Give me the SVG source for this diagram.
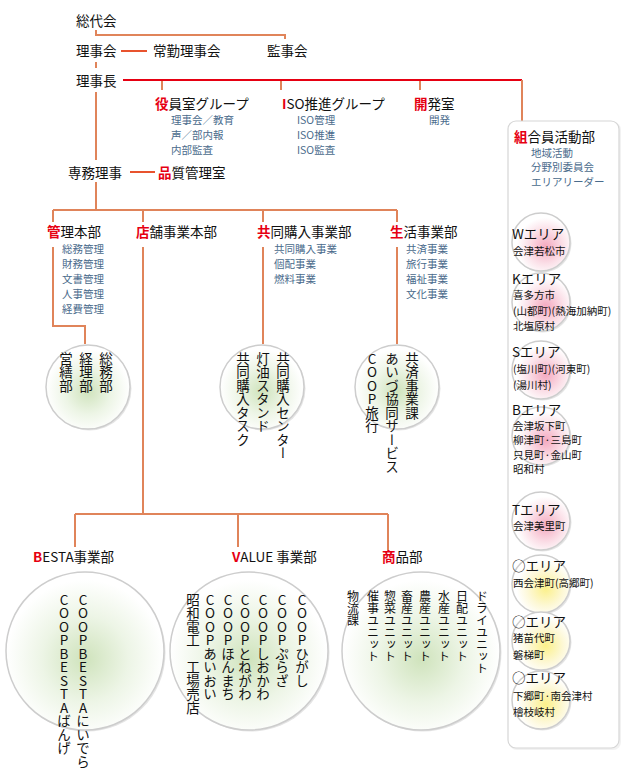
<svg xmlns="http://www.w3.org/2000/svg" width="624" height="770" viewBox="0 0 624 770">
<defs>
<style>
text{font-family:"Noto Sans CJK JP","Liberation Sans",sans-serif;fill:#111;font-size:13.5px}
.s{font-size:10.5px;fill:#4a6b8c}
.r{fill:#e60012;font-weight:bold}
.v{writing-mode:vertical-rl;text-orientation:upright;font-size:13.5px}
.vb{writing-mode:vertical-rl;text-orientation:upright;font-size:13.5px}
.vs{writing-mode:vertical-rl;text-orientation:upright;font-size:12px}
.as{font-size:10.5px}
.c{stroke:#e0845a;stroke-width:2;fill:none}
.cr{stroke:#e8532e;stroke-width:2;fill:none}
.rl{stroke:#e60012;stroke-width:2;fill:none}
.ball{stroke:#cdcdcd;stroke-width:1.5}
.sh{fill:#e4e4e4}
</style>
<radialGradient id="g" cx="50%" cy="55%" r="50%">
<stop offset="0" stop-color="#cfe3bc"/>
<stop offset="0.55" stop-color="#edf5e6"/>
<stop offset="1" stop-color="#ffffff"/>
</radialGradient>
<radialGradient id="p" cx="58%" cy="58%" r="50%">
<stop offset="0" stop-color="#f4a9c0"/>
<stop offset="0.6" stop-color="#fbe0e8"/>
<stop offset="1" stop-color="#ffffff"/>
</radialGradient>
<radialGradient id="y" cx="58%" cy="58%" r="50%">
<stop offset="0" stop-color="#fbf08a"/>
<stop offset="0.6" stop-color="#fdf8d6"/>
<stop offset="1" stop-color="#ffffff"/>
</radialGradient>
</defs>

<g id="connectors">
<path class="c" d="M96,30 V35 H285 V39"/>
<path class="cr" d="M121,51 H147"/>
<path class="c" d="M96,62 V68"/>
<path class="rl" d="M123,80 H522"/>
<path class="c" d="M522,80 V121"/>
<path class="c" d="M162,81 V90 M281,81 V90 M420,81 V90"/>
<path class="c" d="M96,92 V160"/>
<path class="cr" d="M130,172 H155"/>
<path class="c" d="M96,182 V210"/>
<path class="c" d="M53,210 H397 M53,210 V222 M143,210 V222 M263,210 V222 M397,210 V222"/>
<path class="c" d="M53,247 V326 H85 V344"/>
<path class="c" d="M143,247 V514"/>
<path class="c" d="M263,247 V344"/>
<path class="c" d="M397,247 V344"/>
<path class="c" d="M75,514 H388 M75,514 V547 M238,514 V547 M388,514 V552"/>
</g>

<g id="soudaikai"><text x="76" y="26">総代会</text></g>
<g id="rijikai"><text x="76" y="56">理事会</text></g>
<g id="joukin"><text x="153" y="56">常勤理事会</text></g>
<g id="kanjikai"><text x="267" y="56">監事会</text></g>
<g id="rijicho"><text x="76" y="86">理事長</text></g>

<g id="yakuin">
<text x="155" y="108.5"><tspan class="r">役</tspan>員室グループ</text>
<text class="s" x="171" y="123.5">理事会／教育</text>
<text class="s" x="171" y="138.5">声／部内報</text>
<text class="s" x="171" y="153.5">内部監査</text>
</g>
<g id="iso">
<text x="282" y="108.5"><tspan class="r">I</tspan>SO推進グループ</text>
<text class="s" x="297" y="123.5">ISO管理</text>
<text class="s" x="297" y="138.5">ISO推進</text>
<text class="s" x="297" y="153.5">ISO監査</text>
</g>
<g id="kaihatsu">
<text x="414" y="108.5"><tspan class="r">開</tspan>発室</text>
<text class="s" x="429" y="123.5">開発</text>
</g>

<g id="senmu"><text x="68" y="177.5">専務理事</text></g>
<g id="hinshitsu"><text x="158" y="177.5"><tspan class="r">品</tspan>質管理室</text></g>

<g id="kanri">
<text x="47" y="236.5"><tspan class="r">管</tspan>理本部</text>
<text class="s" x="62" y="252.5">総務管理</text>
<text class="s" x="62" y="267.5">財務管理</text>
<text class="s" x="62" y="282.5">文書管理</text>
<text class="s" x="62" y="297.5">人事管理</text>
<text class="s" x="62" y="312.5">経費管理</text>
</g>
<g id="tenpo"><text x="136" y="236.5"><tspan class="r">店</tspan>舗事業本部</text></g>
<g id="kyodo">
<text x="257" y="236.5"><tspan class="r">共</tspan>同購入事業部</text>
<text class="s" x="274" y="252.5">共同購入事業</text>
<text class="s" x="274" y="267.5">個配事業</text>
<text class="s" x="274" y="282.5">燃料事業</text>
</g>
<g id="seikatsu">
<text x="390" y="236.5"><tspan class="r">生</tspan>活事業部</text>
<text class="s" x="406" y="252.5">共済事業</text>
<text class="s" x="406" y="267.5">旅行事業</text>
<text class="s" x="406" y="282.5">福祉事業</text>
<text class="s" x="406" y="297.5">文化事業</text>
</g>

<g id="kanri-ball">
<circle class="sh" cx="89.5" cy="388.5" r="42"/>
<circle class="ball" cx="88" cy="387" r="42" fill="url(#g)"/>
<text class="v" x="106" y="352">総務部</text>
<text class="v" x="86" y="352">経理部</text>
<text class="v" x="66" y="352">営繕部</text>
</g>
<g id="kyodo-ball">
<circle class="sh" cx="263.5" cy="388.5" r="42"/>
<circle class="ball" cx="262" cy="387" r="42" fill="url(#g)"/>
<text class="v" x="283" y="352">共同購入センター</text>
<text class="v" x="263" y="352">灯油スタンド</text>
<text class="v" x="243" y="352">共同購入タスク</text>
</g>
<g id="seikatsu-ball">
<circle class="sh" cx="398.5" cy="388.5" r="42"/>
<circle class="ball" cx="397" cy="387" r="42" fill="url(#g)"/>
<text class="v" x="412" y="352">共済事業課</text>
<text class="v" x="392" y="352">あいづ協同サービス</text>
<text class="v" x="372" y="352">COOP旅行</text>
</g>

<g id="besta">
<text x="33" y="562"><tspan class="r">B</tspan>ESTA事業部</text>
<circle class="sh" cx="86.5" cy="652.5" r="79"/>
<circle class="ball" cx="85" cy="651" r="79" fill="url(#g)"/>
<text class="vb" x="83" y="593">COOPBESTAにいでら</text>
<text class="vb" x="64" y="593">COOPBESTAばんげ</text>
</g>
<g id="value">
<text x="232" y="562"><tspan class="r">V</tspan>ALUE 事業部</text>
<circle class="sh" cx="250.5" cy="652.5" r="79"/>
<circle class="ball" cx="249" cy="651" r="79" fill="url(#g)"/>
<text class="vb" x="302" y="593">COOPひがし</text>
<text class="vb" x="282" y="593">COOPぷらざ</text>
<text class="vb" x="263" y="593">COOPしおかわ</text>
<text class="vb" x="245" y="593">COOPとねがわ</text>
<text class="vb" x="228" y="593">COOPほんまち</text>
<text class="vb" x="210" y="593">COOPあいおい</text>
<text class="vb" x="193" y="593">昭和電工 工場売店</text>
</g>
<g id="shohin">
<text x="382" y="562"><tspan class="r">商</tspan>品部</text>
<circle class="sh" cx="422.5" cy="652.5" r="79"/>
<circle class="ball" cx="421" cy="651" r="79" fill="url(#g)"/>
<text class="vs" x="482" y="590">ドライユニット</text>
<text class="vs" x="462" y="590">日配ユニット</text>
<text class="vs" x="444" y="590">水産ユニット</text>
<text class="vs" x="425" y="590">農産ユニット</text>
<text class="vs" x="407" y="590">畜産ユニット</text>
<text class="vs" x="390" y="590">惣菜ユニット</text>
<text class="vs" x="373" y="590">催事ユニット</text>
<text class="vs" x="353" y="590">物流課</text>
</g>

<g id="kumiai">
<rect x="509" y="122" width="112" height="628" rx="8" fill="#f2f2f2"/>
<rect x="508" y="121" width="111" height="627" rx="8" fill="#ffffff" stroke="#d6d6d6" stroke-width="1.2"/>
<text x="514" y="141.5"><tspan class="r">組</tspan>合員活動部</text>
<text class="s" x="531" y="156.5">地域活動</text>
<text class="s" x="531" y="171">分野別委員会</text>
<text class="s" x="531" y="185.5">エリアリーダー</text>
</g>

<g id="area-w">
<circle class="sh" cx="542.5" cy="243.5" r="29"/>
<circle class="ball" cx="541" cy="242" r="29" fill="url(#p)"/>
<text x="512" y="239">Wエリア</text>
<text class="as" x="513" y="255">会津若松市</text>
</g>
<g id="area-k">
<circle class="sh" cx="542.5" cy="303.5" r="29"/>
<circle class="ball" cx="541" cy="302" r="29" fill="url(#p)"/>
<text x="512" y="284">Kエリア</text>
<text class="as" x="513" y="299">喜多方市</text>
<text class="as" x="513" y="315">(山都町)(熱海加納町)</text>
<text class="as" x="513" y="330">北塩原村</text>
</g>
<g id="area-s">
<circle class="sh" cx="542.5" cy="371.5" r="29"/>
<circle class="ball" cx="541" cy="370" r="29" fill="url(#p)"/>
<text x="512" y="357">Sエリア</text>
<text class="as" x="513" y="373">(塩川町)(河東町)</text>
<text class="as" x="513" y="389">(湯川村)</text>
</g>
<g id="area-b">
<circle class="sh" cx="542.5" cy="437.5" r="29"/>
<circle class="ball" cx="541" cy="436" r="29" fill="url(#p)"/>
<text x="512" y="414.5">Bエリア</text>
<text class="as" x="513" y="429.5">会津坂下町</text>
<text class="as" x="513" y="444">柳津町·三島町</text>
<text class="as" x="513" y="458.5">只見町·金山町</text>
<text class="as" x="513" y="473">昭和村</text>
</g>
<g id="area-t">
<circle class="sh" cx="542.5" cy="522.5" r="29"/>
<circle class="ball" cx="541" cy="521" r="29" fill="url(#p)"/>
<text x="512" y="515">Tエリア</text>
<text class="as" x="513" y="530">会津美里町</text>
</g>
<g id="area-o1">
<circle class="sh" cx="542.5" cy="585.5" r="29"/>
<circle class="ball" cx="541" cy="584" r="29" fill="url(#y)"/>
<text x="512" y="571">○エリア</text>
<text class="as" x="513" y="587">西会津町(高郷町)</text>
</g>
<g id="area-o2">
<circle class="sh" cx="542.5" cy="642.5" r="29"/>
<circle class="ball" cx="541" cy="641" r="29" fill="url(#y)"/>
<text x="512" y="627">○エリア</text>
<text class="as" x="513" y="642">猪苗代町</text>
<text class="as" x="513" y="659">磐梯町</text>
</g>
<g id="area-o3">
<circle class="sh" cx="542.5" cy="701.5" r="29"/>
<circle class="ball" cx="541" cy="700" r="29" fill="url(#y)"/>
<text x="512" y="683">○エリア</text>
<text class="as" x="513" y="700">下郷町·南会津村</text>
<text class="as" x="513" y="716">檜枝岐村</text>
</g>
</svg>
